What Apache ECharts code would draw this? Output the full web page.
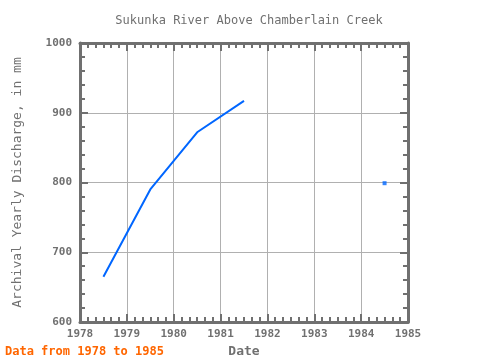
<!DOCTYPE html>
<html>
<head>
<meta charset="utf-8">
<script src="https://cdn.jsdelivr.net/npm/echarts@6/dist/echarts.min.js"></script>
<style>html,body{margin:0;padding:0;background:#fff}#c{width:480px;height:360px}</style>
</head>
<body>
<div id="c"></div>
<script>
var years = [1978.5, 1979.5, 1980.5, 1981.5, 1982.5, 1983.5, 1984.5];
var discharge = [665, 790, 872, 917, null, null, 799];
var xTicks = [1978, 1979, 1980, 1981, 1982, 1983, 1984, 1985];
var yTicks = [600, 700, 800, 900, 1000];

var lineData = years.map(function (y, i) { return [y, discharge[i]]; });
var isolated = [];
for (var i = 0; i < years.length; i++) {
  var prev = i > 0 ? discharge[i - 1] : null;
  var next = i < years.length - 1 ? discharge[i + 1] : null;
  if (discharge[i] != null && prev == null && next == null) isolated.push([years[i], discharge[i]]);
}

var gray = '#707070';
var font = 'DejaVu Sans Mono';
var chart = echarts.init(document.getElementById('c'));
var plain = function (v) { return String(v); };
var baseX = {
  type: 'value', min: xTicks[0], max: xTicks[xTicks.length - 1], interval: 1,
  axisLine: { show: true, lineStyle: { color: gray, width: 3 } },
  axisTick: { show: true, inside: true, length: 8, lineStyle: { color: gray, width: 2 } },
  minorTick: { show: true, splitNumber: 6, length: 5, lineStyle: { color: gray, width: 2 } },
  splitLine: { show: false }
};
var baseY = {
  type: 'value', min: yTicks[0], max: yTicks[yTicks.length - 1], interval: 100,
  axisLine: { show: true, lineStyle: { color: gray, width: 3 } },
  axisTick: { show: true, inside: true, length: 8, lineStyle: { color: gray, width: 2 } },
  minorTick: { show: true, splitNumber: 5, length: 5, lineStyle: { color: gray, width: 2 } },
  splitLine: { show: false }
};
chart.setOption({
  animation: false,
  title: {
    text: 'Sukunka River Above Chamberlain Creek',
    left: 244, top: 10, textAlign: 'center',
    textStyle: { fontFamily: font, fontSize: 12, fontWeight: 'normal', color: gray }
  },
  graphic: [{
    type: 'text', left: 5, top: 346,
    style: { text: 'Data from 1978 to 1985', fontFamily: font, fontSize: 12, fontWeight: 'bold', fill: '#ff6600' }
  }],
  grid: { left: 80, right: 72, top: 43, bottom: 38, outerBoundsMode: 'none', containLabel: false },
  xAxis: [
    Object.assign({}, baseX, {
      position: 'bottom',
      splitLine: { show: true, lineStyle: { color: '#b0b0b0', width: 1 } },
      axisLabel: { color: gray, fontFamily: font, fontSize: 11, fontWeight: 'bold', margin: 7, formatter: plain },
      name: 'Date', nameLocation: 'middle', nameGap: 18,
      nameTextStyle: { color: gray, fontFamily: font, fontSize: 13, fontWeight: 'bold' }
    }),
    Object.assign({}, baseX, { position: 'top', axisLabel: { show: false } })
  ],
  yAxis: [
    Object.assign({}, baseY, {
      position: 'left',
      splitLine: { show: true, lineStyle: { color: '#b0b0b0', width: 1 } },
      axisLabel: { color: gray, fontFamily: font, fontSize: 11, fontWeight: 'bold', margin: 8, formatter: plain },
      name: 'Archival Yearly Discharge, in mm', nameLocation: 'middle', nameGap: 56,
      nameTextStyle: { color: gray, fontFamily: font, fontSize: 13, fontWeight: 'normal' }
    }),
    Object.assign({}, baseY, { position: 'right', axisLabel: { show: false } })
  ],
  series: [
    {
      type: 'line', data: lineData, connectNulls: false, showSymbol: false,
      lineStyle: { color: '#0066ff', width: 2 }, z: 5
    },
    {
      type: 'scatter', data: isolated, symbol: 'rect', symbolSize: 4,
      itemStyle: { color: '#0066ff' }, z: 5
    }
  ]
});
</script>
</body>
</html>
